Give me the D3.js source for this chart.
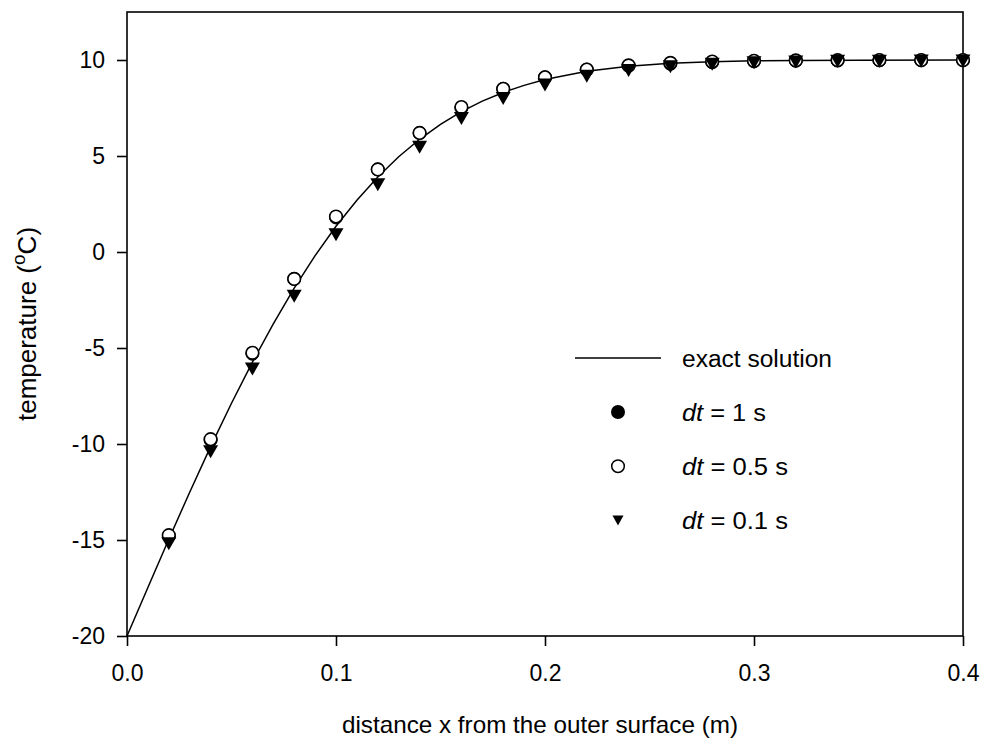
<!DOCTYPE html>
<html>
<head>
<meta charset="utf-8">
<script src="https://cdn.jsdelivr.net/npm/d3@7"></script>
<style>
  body { margin: 0; background: #fff; }
  text { font-family: "Liberation Sans", Arial, sans-serif; fill: #000; }
</style>
</head>
<body>
<div id="vis"></div>
<script>
// data
const xNodes = [0.02, 0.04, 0.06, 0.08, 0.10, 0.12, 0.14, 0.16, 0.18, 0.20,
                0.22, 0.24, 0.26, 0.28, 0.30, 0.32, 0.34, 0.36, 0.38, 0.40];
const dt1   = [-14.8, -9.8, -5.3, -1.4, 1.8, 4.3, 6.2, 7.5, 8.5, 9.1,
               9.5, 9.7, 9.8, 9.88, 9.93, 9.96, 9.97, 9.98, 9.98, 9.98];
const dt05  = [-14.75, -9.75, -5.25, -1.4, 1.85, 4.3, 6.2, 7.55, 8.5, 9.1,
               9.5, 9.72, 9.85, 9.92, 9.96, 9.98, 9.99, 10.0, 10.0, 10.0];
const dt01  = [-15.2, -10.4, -6.1, -2.3, 0.9, 3.5, 5.45, 6.95, 8.0, 8.7,
               9.15, 9.45, 9.65, 9.78, 9.86, 9.9, 9.93, 9.94, 9.95, 9.95];
const exactX = [0, 0.01, 0.02, 0.03, 0.04, 0.05, 0.06, 0.07, 0.08, 0.09, 0.10,
                0.11, 0.12, 0.13, 0.14, 0.15, 0.16, 0.17, 0.18, 0.19, 0.20,
                0.22, 0.24, 0.26, 0.28, 0.30, 0.32, 0.35, 0.40];
const exactT = [-20, -17.47, -14.96, -12.51, -10.14, -7.88, -5.74, -3.74, -1.88, -0.19, 1.34,
                2.70, 3.91, 4.96, 5.87, 6.65, 7.31, 7.86, 8.31, 8.68, 8.98,
                9.41, 9.67, 9.83, 9.91, 9.96, 9.98, 9.99, 10.0];
const xTicks = [0, 0.1, 0.2, 0.3, 0.4];
const yTicks = [-20, -15, -10, -5, 0, 5, 10];

const W = 985, H = 747;
const margin = {top: 12, right: 22, bottom: 111, left: 127};
const width = W - margin.left - margin.right;
const height = H - margin.top - margin.bottom;

const svg = d3.select('#vis').append('svg')
    .attr('width', W).attr('height', H)
    .append('g')
    .attr('transform', `translate(${margin.left},${margin.top})`);

const xScale = d3.scaleLinear().domain([0, 0.4]).range([0, width]);
const yScale = d3.scaleLinear().domain([-20, 12.5]).range([height, 0]);

// frame
svg.append('rect')
    .attr('width', width).attr('height', height)
    .attr('fill', 'none').attr('stroke', '#000').attr('stroke-width', 1.6);

const xAxis = d3.axisBottom(xScale).tickValues(xTicks)
    .tickFormat(d3.format('.1f')).tickSize(10).tickPadding(19);
svg.append('g')
    .attr('transform', `translate(0,${height})`)
    .call(xAxis)
    .call(g => g.select('.domain').remove());

// plain hyphen for negatives, like the original
const yAxis = d3.axisLeft(yScale).tickValues(yTicks)
    .tickFormat(d => String(d)).tickSize(10).tickPadding(12);
svg.append('g')
    .call(yAxis)
    .call(g => g.select('.domain').remove());

svg.selectAll('.tick line').attr('stroke', '#000').attr('stroke-width', 1.6);
svg.selectAll('.tick text').attr('font-size', null).style('font-size', '23px')
    .style('font-family', '"Liberation Sans", Arial, sans-serif');

// axis titles
svg.append('text')
    .attr('x', width / 2 - 5).attr('y', height + 97)
    .attr('text-anchor', 'middle').style('font-size', '24px')
    .attr('textLength', 396).attr('lengthAdjust', 'spacingAndGlyphs')
    .text('distance x from the outer surface (m)');

const yt = svg.append('text')
    .attr('transform', `translate(${-91},${height / 2}) rotate(-90)`)
    .attr('text-anchor', 'middle').style('font-size', '26px');
yt.append('tspan').text('temperature (');
yt.append('tspan').attr('dy', -11).style('font-size', '19px').text('o');
yt.append('tspan').attr('dy', 11).text('C)');

// exact solution
const line = d3.line().x((d, i) => xScale(exactX[i])).y(d => yScale(d));
svg.append('path')
    .datum(exactT)
    .attr('d', line)
    .attr('fill', 'none').attr('stroke', '#000').attr('stroke-width', 1.5);

function triangle(w, h) {
  // downward triangle, bbox centred on the point
  return `M${-w / 2},${-h / 2}L${w / 2},${-h / 2}L0,${h / 2}Z`;
}

svg.selectAll('.dt1').data(dt1).join('circle')
    .attr('class', 'dt1')
    .attr('cx', (d, i) => xScale(xNodes[i])).attr('cy', d => yScale(d))
    .attr('r', 6.5).attr('fill', '#000').attr('stroke', '#000');

svg.selectAll('.dt05').data(dt05).join('circle')
    .attr('class', 'dt05')
    .attr('cx', (d, i) => xScale(xNodes[i])).attr('cy', d => yScale(d))
    .attr('r', 6.3).attr('fill', '#fff').attr('stroke', '#000').attr('stroke-width', 1.6);

svg.selectAll('.dt01').data(dt01).join('path')
    .attr('class', 'dt01')
    .attr('transform', (d, i) => `translate(${xScale(xNodes[i])},${yScale(d)})`)
    .attr('d', triangle(15, 13))
    .attr('fill', '#000');

// legend
const lg = svg.append('g').attr('transform', `translate(${575 - margin.left},${358 - margin.top})`);
lg.append('line').attr('x1', 0).attr('x2', 86).attr('y1', 0).attr('y2', 0)
    .attr('stroke', '#000').attr('stroke-width', 1.5);
lg.append('text').attr('x', 107).attr('y', 9).style('font-size', '23px')
    .attr('textLength', 150).attr('lengthAdjust', 'spacingAndGlyphs')
    .text('exact solution');

const rows = [
  {label: ' = 1 s', type: 'filled', len: 84},
  {label: ' = 0.5 s', type: 'open', len: 106},
  {label: ' = 0.1 s', type: 'tri', len: 106}
];
rows.forEach((r, i) => {
  const cy = 54 + i * 54.2;
  if (r.type === 'filled') {
    lg.append('circle').attr('cx', 43).attr('cy', cy).attr('r', 7).attr('fill', '#000');
  } else if (r.type === 'open') {
    lg.append('circle').attr('cx', 43).attr('cy', cy).attr('r', 6.3)
      .attr('fill', '#fff').attr('stroke', '#000').attr('stroke-width', 1.5);
  } else {
    lg.append('path').attr('transform', `translate(43,${cy})`)
      .attr('d', triangle(11, 10)).attr('fill', '#000');
  }
  const t = lg.append('text').attr('x', 107).attr('y', cy + 9).style('font-size', '23px')
      .attr('textLength', r.len).attr('lengthAdjust', 'spacingAndGlyphs');
  t.append('tspan').style('font-style', 'italic').text('dt');
  t.append('tspan').text(r.label);
});
</script>
</body>
</html>
